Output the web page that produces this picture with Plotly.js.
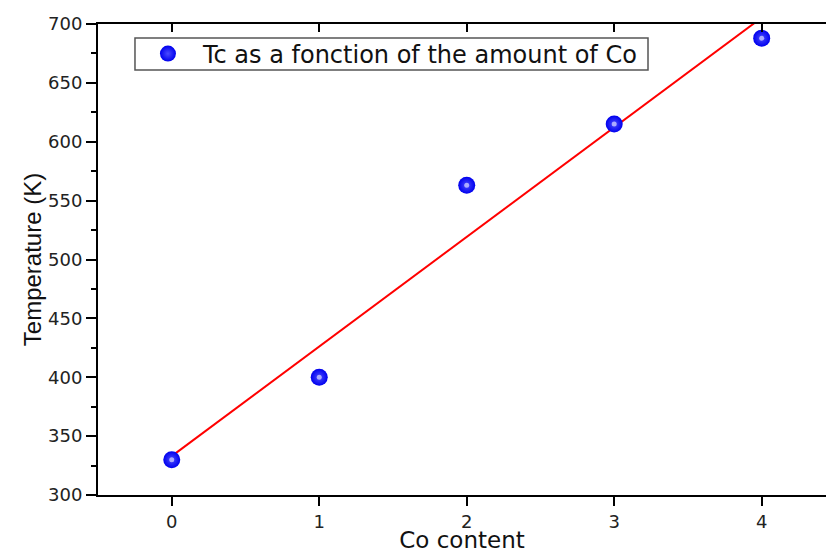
<!DOCTYPE html>
<html>
<head>
<meta charset="utf-8">
<script src="https://cdn.plot.ly/plotly-3.0.1.min.js"></script>
<style>html,body{margin:0;padding:0;background:#fff;}#chart{width:826px;height:553px;}</style>
</head>
<body>
<div id="chart"></div>
<script>
var coContent = [0, 1, 2, 3, 4];
var tcValues = [330, 400, 563, 615, 688];
var fitX = [0, 4];
var fitY = [333, 705.4];
var xTickVals = [0, 1, 2, 3, 4];
var yTickVals = [300, 350, 400, 450, 500, 550, 600, 650, 700];
var seriesName = 'Tc as a fonction of the amount of Co';

var WIDE = 'DejaVu Sans, Verdana, sans-serif';
var NARROW = 'Liberation Sans, Arial, sans-serif';
var data = [
  {
    x: fitX, y: fitY, mode: 'lines', type: 'scatter',
    line: {color: '#ff0000', width: 2}, showlegend: false, hoverinfo: 'skip'
  },
  {
    x: coContent, y: tcValues, mode: 'markers', type: 'scatter',
    name: seriesName,
    marker: {symbol: 'circle', size: 17, color: '#0000ee',
             gradient: {type: 'radial', color: '#4a4aff'},
             line: {width: 0}}
  },
  {
    x: coContent, y: tcValues, mode: 'markers', type: 'scatter',
    marker: {symbol: 'circle', size: 5, color: 'rgba(190,190,255,0.85)', line: {width: 0}},
    showlegend: false, hoverinfo: 'skip'
  },
  {
    x: coContent, y: tcValues, xaxis: 'x2', mode: 'markers', type: 'scatter',
    marker: {opacity: 0}, showlegend: false, hoverinfo: 'skip'
  }
];
var layout = {
  width: 826, height: 553,
  margin: {l: 98, r: 0, t: 24, b: 58},
  paper_bgcolor: '#fff', plot_bgcolor: '#fff',
  font: {family: WIDE, color: '#222'},
  showlegend: true,
  legend: {
    x: 0.048, y: 0.9363, xanchor: 'left', yanchor: 'middle',
    bgcolor: 'rgba(0,0,0,0)', borderwidth: 0,
    font: {family: WIDE, size: 24, color: '#111'},
    itemwidth: 60
  },
  shapes: [{
    type: 'rect', xref: 'paper', yref: 'paper',
    x0: 0.0508, x1: 0.7555, y0: 0.9023, y1: 0.9703,
    fillcolor: '#fff', line: {color: '#555', width: 1.5}, layer: 'below'
  }],
  xaxis: {
    range: [-0.5, 4.436], tickvals: xTickVals, ticktext: xTickVals.map(String),
    showgrid: false, zeroline: false, showline: true, linecolor: '#000', linewidth: 2,
    ticks: 'outside', ticklen: 9, tickwidth: 2, tickcolor: '#000',
    tickfont: {size: 18, family: WIDE, color: '#222'},
    title: {text: 'Co content', font: {size: 23, family: WIDE, color: '#111'}, standoff: 0}
  },
  xaxis2: {
    overlaying: 'x', side: 'top', matches: 'x', range: [-0.5, 4.436],
    tickvals: xTickVals, showticklabels: false,
    showgrid: false, zeroline: false, showline: true, linecolor: '#000', linewidth: 2,
    ticks: 'inside', ticklen: 8, tickwidth: 2, tickcolor: '#000'
  },
  yaxis: {
    range: [300, 700], tickvals: yTickVals,
    showgrid: false, zeroline: false, showline: true, linecolor: '#000', linewidth: 2,
    ticks: 'outside', ticklen: 10, tickwidth: 2, tickcolor: '#000',
    minor: {dtick: 25, ticks: 'outside', ticklen: 5, tickwidth: 2, tickcolor: '#000', showgrid: false},
    tickfont: {size: 18, family: WIDE, color: '#222'},
    title: {text: 'Temperature (K)', font: {size: 24, family: NARROW, color: '#111'}, standoff: 0}
  }
};
Plotly.newPlot('chart', data, layout, {displayModeBar: false, staticPlot: true});
</script>
</body>
</html>
